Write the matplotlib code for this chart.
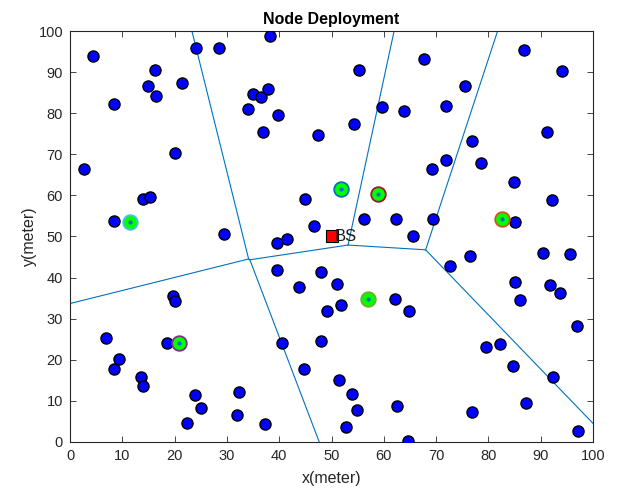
import numpy as np
import matplotlib
matplotlib.use("Agg")
import matplotlib.pyplot as plt

plt.rcParams['font.family'] = ['Liberation Sans', 'DejaVu Sans']

# sensor nodes (x, y) in meters
node_x = [4.4, 8.5, 16.3, 15.0, 16.5, 21.4, 24.1, 28.4, 38.2, 35.0, 36.5, 37.9, 34.1, 39.8,
          36.8, 47.5, 20.1, 2.7, 14.0, 15.2, 44.9, 8.5, 46.7, 29.4,
          86.8, 94.1, 55.2, 67.6, 75.5, 59.6, 63.8, 71.8, 54.2, 91.1, 76.8, 71.9, 69.2,
          78.5, 84.8, 92.2, 85.1, 56.2, 62.4, 69.4, 65.6,
          39.6, 41.5, 39.6, 48.0, 43.8, 49.1, 48.0, 40.5, 44.7, 19.7, 20.1, 6.9, 18.5,
          9.4, 8.4, 13.6, 14.0, 23.8, 32.4, 25.1, 32.0, 22.4, 37.2,
          72.6, 76.4, 90.4, 95.5, 51.1, 85.1, 91.7, 93.6, 62.1, 51.8, 64.9, 86.1, 96.9,
          79.5, 82.3, 84.7, 92.4, 51.4, 53.9, 54.9, 62.6, 52.7, 64.6, 76.9, 87.2, 97.2]
node_y = [94.0, 82.2, 90.6, 86.5, 84.3, 87.4, 95.8, 95.9, 98.8, 84.6, 84.0, 85.8, 81.0, 79.6,
          75.4, 74.6, 70.2, 66.4, 59.2, 59.6, 59.2, 53.8, 52.6, 50.5,
          95.3, 90.2, 90.4, 93.3, 86.6, 81.4, 80.5, 81.8, 77.3, 75.5, 73.2, 68.7, 66.4,
          68.0, 63.3, 58.9, 53.5, 54.3, 54.2, 54.3, 50.2,
          48.5, 49.5, 41.8, 41.3, 37.7, 31.9, 24.5, 24.0, 17.8, 35.4, 34.4, 25.3, 24.1,
          20.3, 17.8, 15.9, 13.7, 11.4, 12.2, 8.2, 6.5, 4.5, 4.3,
          42.8, 45.3, 46.0, 45.7, 38.4, 38.9, 38.1, 36.2, 34.8, 33.3, 31.9, 34.5, 28.1,
          23.0, 23.9, 18.6, 15.7, 15.1, 11.6, 7.7, 8.8, 3.6, 0.2, 7.3, 9.4, 2.7]

# cluster heads and their edge colours
ch_x = [51.8, 82.5, 20.8, 56.9, 11.4, 58.9]
ch_y = [61.5, 54.2, 24.0, 34.8, 53.6, 60.3]
ch_edge = ['#0072BD', '#D95319', '#7E2F8E', '#77AC30', '#4DBEEE', '#A2142F']

bs_x, bs_y = 50, 50

line_col = '#0072BD'


def voronoi_edges(px, py):
    # bisector segments between every pair of sites, cut by all other sites
    pts = np.column_stack([px, py])
    n = len(pts)
    segs = []
    for i in range(n):
        for j in range(i + 1, n):
            a, b = pts[i], pts[j]
            m = (a + b) / 2
            d = np.array([-(b - a)[1], (b - a)[0]])
            d = d / np.linalg.norm(d)
            t0, t1 = -1000.0, 1000.0
            ok = True
            for k in range(n):
                if k in (i, j):
                    continue
                c = pts[k]
                # |p-a|^2 <= |p-c|^2  ->  2 p.(c-a) <= |c|^2 - |a|^2
                g = 2 * (c - a)
                h = c @ c - a @ a
                coef = g @ d
                rhs = h - g @ m
                if abs(coef) < 1e-12:
                    if rhs < 0:
                        ok = False
                        break
                    continue
                t = rhs / coef
                if coef > 0:
                    t1 = min(t1, t)
                else:
                    t0 = max(t0, t)
            if ok and t0 < t1:
                segs.append((m + t0 * d, m + t1 * d))
    return segs


fig = plt.figure(figsize=(6.17, 4.90), dpi=100)
ax = fig.add_axes([0.1135, 0.098, 0.8477, 0.8387])

for p0, p1 in voronoi_edges(ch_x, ch_y):
    ax.plot([p0[0], p1[0]], [p0[1], p1[1]], color=line_col, lw=0.8, zorder=1)

ax.plot(node_x, node_y, 'o', ms=8, mfc='blue', mec='black', mew=1.0, zorder=3)

for x, y, ec in zip(ch_x, ch_y, ch_edge):
    ax.plot(x, y, 'o', ms=10.5, mfc='#00FF00', mec=ec, mew=1.3, zorder=4)
    ax.plot(x, y, '.', ms=4, color=line_col, zorder=5)

ax.plot(bs_x, bs_y, 's', ms=9, mfc='red', mec='black', mew=0.8, zorder=5)
ax.text(bs_x + 0.5, bs_y, 'BS', fontsize=12, va='center', ha='left', color='#1a1a1a', zorder=6)

ax.set_xlim(0, 100)
ax.set_ylim(0, 100)
ax.set_xticks(np.arange(0, 101, 10))
ax.set_yticks(np.arange(0, 101, 10))
ax.tick_params(direction='in', top=True, right=True, length=4, width=0.6,
               labelsize=10.5, colors='#262626', pad=5)
for s in ax.spines.values():
    s.set_color('#262626')
    s.set_linewidth(0.8)

ax.set_title('Node Deployment', fontsize=11.5, fontweight='bold', pad=5)
ax.set_xlabel('x(meter)', fontsize=11.5, color='#262626', labelpad=6)
ax.set_ylabel('y(meter)', fontsize=11.5, color='#262626', labelpad=1)

fig.savefig('out.png', dpi=100)
